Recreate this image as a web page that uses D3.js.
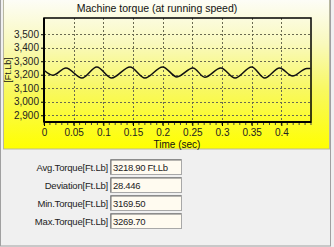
<!DOCTYPE html>
<html>
<head>
<meta charset="utf-8">
<script src="https://cdn.jsdelivr.net/npm/d3@7"></script>
<style>
  body { margin: 0; background: #f0f0f0; }
  svg { display: block; font-family: "Liberation Sans", Arial, sans-serif; }
</style>
</head>
<body>
<div id="chart"></div>
<script>
// torque readings over time (peaks and troughs)
const times = [0, 0.015, 0.037, 0.064, 0.089, 0.114, 0.145, 0.170, 0.200, 0.224,
  0.251, 0.271, 0.298, 0.322, 0.350, 0.372, 0.397, 0.419, 0.443, 0.449];
const torque = [3233, 3196, 3250, 3176, 3258, 3176, 3258, 3176, 3258, 3184,
  3250, 3181, 3250, 3176, 3258, 3176, 3250, 3191, 3246, 3246];
const yTicks = [2900, 3000, 3100, 3200, 3300, 3400, 3500];
const xTicks = [0, 0.05, 0.1, 0.15, 0.2, 0.25, 0.3, 0.35, 0.4];
const statLabels = ["Avg.Torque[Ft.Lb]", "Deviation[Ft.Lb]", "Min.Torque[Ft.Lb]", "Max.Torque[Ft.Lb]"];
const statValues = ["3218.90 Ft.Lb", "28.446", "3169.50", "3269.70"];

const W = 334, H = 247;
const plot = { left: 44, right: 311, top: 18, bottom: 122 };

const svg = d3.select("#chart").append("svg")
  .attr("width", W).attr("height", H);

const defs = svg.append("defs");
const grad = defs.append("linearGradient")
  .attr("id", "bg").attr("x1", 0).attr("y1", 0).attr("x2", 0).attr("y2", 1);
grad.append("stop").attr("offset", "0%").attr("stop-color", "#fdfdf8");
grad.append("stop").attr("offset", "30%").attr("stop-color", "#f9f9bc");
grad.append("stop").attr("offset", "60%").attr("stop-color", "#f8f862");
grad.append("stop").attr("offset", "100%").attr("stop-color", "#ffff00");

// window frame
svg.append("rect")
  .attr("x", 0.5).attr("y", -1).attr("width", W - 4).attr("height", H)
  .attr("fill", "#f0f0f0").attr("stroke", "#a0a0a0");

// chart panel
svg.append("rect")
  .attr("x", 3.5).attr("y", -1).attr("width", 326).attr("height", 150)
  .attr("fill", "url(#bg)").attr("stroke", "#b8b8a0");

const x = d3.scaleLinear().domain([0, 0.45]).range([plot.left, plot.right]);
const y = d3.scaleLinear().domain([2850, 3620]).range([plot.bottom, plot.top]);

// grid
svg.append("g")
  .selectAll("line")
  .data(yTicks)
  .join("line")
    .attr("x1", plot.left).attr("x2", plot.right)
    .attr("y1", d => Math.round(y(d)) + 0.5).attr("y2", d => Math.round(y(d)) + 0.5)
    .attr("stroke", "#6a6a50").attr("stroke-dasharray", "2,2");

svg.append("g")
  .selectAll("line")
  .data(xTicks.slice(1))
  .join("line")
    .attr("x1", d => Math.round(x(d)) + 0.5).attr("x2", d => Math.round(x(d)) + 0.5)
    .attr("y1", plot.top).attr("y2", plot.bottom)
    .attr("stroke", "#6a6a50").attr("stroke-dasharray", "2,2");

// axes
const yAxis = svg.append("g")
  .attr("transform", `translate(${plot.left},0)`)
  .call(d3.axisLeft(y).tickValues(yTicks).tickFormat(d3.format(",")).tickSize(3).tickPadding(2));
yAxis.select(".domain").remove();
yAxis.selectAll("text").attr("font-size", 10).attr("fill", "#222");

const minor = d3.range(0, 46).map(i => i / 100);
svg.append("g")
  .attr("transform", `translate(0,${plot.bottom})`)
  .selectAll("line")
  .data(minor)
  .join("line")
    .attr("x1", d => x(d)).attr("x2", d => x(d))
    .attr("y1", 0).attr("y2", 3)
    .attr("stroke", "#444");

const xAxis = svg.append("g")
  .attr("transform", `translate(0,${plot.bottom})`)
  .call(d3.axisBottom(x).tickValues(xTicks).tickFormat(d => d3.format("")(d)).tickSize(4).tickPadding(3));
xAxis.select(".domain").remove();
xAxis.selectAll("text").attr("font-size", 10).attr("fill", "#222");

// plot frame
svg.append("rect")
  .attr("x", plot.left).attr("y", plot.top)
  .attr("width", plot.right - plot.left).attr("height", plot.bottom - plot.top)
  .attr("fill", "none").attr("stroke", "#000").attr("stroke-width", 1.5);
svg.append("line")
  .attr("x1", plot.left).attr("x2", plot.left).attr("y1", plot.top).attr("y2", plot.bottom)
  .attr("stroke", "#000").attr("stroke-width", 2);
svg.append("line")
  .attr("x1", plot.left).attr("x2", plot.right).attr("y1", plot.bottom).attr("y2", plot.bottom)
  .attr("stroke", "#000").attr("stroke-width", 2);

// torque trace
const data = times.map((t, i) => ({ t, v: torque[i] }));
svg.append("path")
  .datum(data)
  .attr("fill", "none")
  .attr("stroke", "#111")
  .attr("stroke-width", 1.5)
  .attr("d", d3.line().x(d => x(d.t)).y(d => y(d.v)).curve(d3.curveMonotoneX));

// titles
svg.append("text")
  .attr("x", 157).attr("y", 12)
  .attr("text-anchor", "middle").attr("font-size", 10.5).attr("fill", "#111")
  .text("Machine torque (at running speed)");

svg.append("text")
  .attr("x", 177).attr("y", 148)
  .attr("text-anchor", "middle").attr("font-size", 10).attr("fill", "#111")
  .text("Time (sec)");

svg.append("text")
  .attr("transform", "translate(11,70) rotate(-90)")
  .attr("text-anchor", "middle").attr("font-size", 9).attr("fill", "#111")
  .text("[Ft.Lb]");

// statistics panel
const rowY = d3.scalePoint().domain(statLabels).range([167, 221]);

const rows = svg.append("g")
  .selectAll("g")
  .data(statLabels)
  .join("g")
    .attr("transform", d => `translate(0,${rowY(d)})`);

rows.append("text")
  .attr("x", 108).attr("y", 3.5)
  .attr("text-anchor", "end").attr("font-size", 9.5).attr("fill", "#222")
  .attr("letter-spacing", -0.2)
  .text(d => d);

rows.append("rect")
  .attr("x", 110.5).attr("y", -7.5).attr("width", 71).attr("height", 15)
  .attr("fill", "#fffbf0").attr("stroke", "#a8a8a8");
rows.append("path")
  .attr("d", "M111,7 V-7 H181")
  .attr("fill", "none").attr("stroke", "#707070");

rows.append("text")
  .attr("x", 113).attr("y", 3.5)
  .attr("font-size", 9.5).attr("fill", "#222")
  .attr("letter-spacing", -0.3)
  .text((d, i) => statValues[i]);
</script>
</body>
</html>
